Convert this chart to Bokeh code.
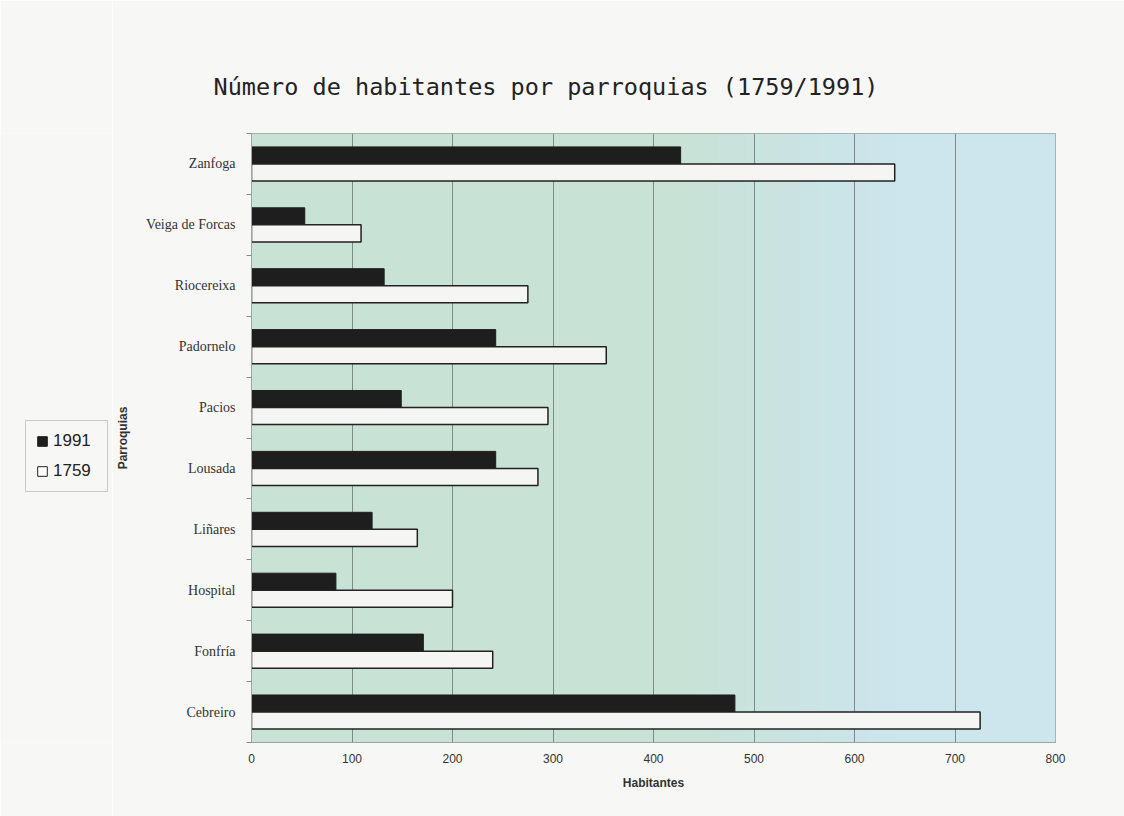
import numpy as np
from bokeh.plotting import figure
from bokeh.layouts import row
from bokeh.models import (ColumnDataSource, FixedTicker, Legend, LegendItem, Range1d, Title)
from bokeh.embed import file_html
from bokeh.resources import INLINE

# ---- data (bottom to top) ----
parroquias = ["Cebreiro", "Fonfría", "Hospital", "Liñares", "Lousada",
              "Pacios", "Padornelo", "Riocereixa", "Veiga de Forcas", "Zanfoga"]
hab_1991 = [481, 171, 84, 120, 243, 149, 243, 132, 53, 427]
hab_1759 = [725, 240, 200, 165, 285, 295, 353, 275, 109, 640]
x_ticks = [0, 100, 200, 300, 400, 500, 600, 700, 800]
series_labels = ["1991", "1759"]

n = len(parroquias)
pos = np.arange(n, dtype=float)
bar_h = 0.28
PAPER = "#f7f7f5"
FILL_91 = "#1e1e1e"
FILL_59 = "#f5f5f3"

src = ColumnDataSource(dict(
    y91=pos + bar_h / 2, y59=pos - bar_h / 2,
    v91=hab_1991, v59=hab_1759))

TOTAL_W, H = 1124, 816
LW = 112
p = figure(width=TOTAL_W - LW, height=H, output_backend="svg", toolbar_location=None,
           x_range=Range1d(0, 800), y_range=Range1d(-0.5, n - 0.5),
           min_border_left=139, min_border_right=69,
           min_border_top=133, min_border_bottom=74)
p.background_fill_color = "#c8e2d6"
p.border_fill_color = PAPER
p.outline_line_color = "#9aa4a2"

# gradient background (green -> light blue)
green = np.array([200, 226, 214])
blue = np.array([205, 229, 237])
N = 200
xs = np.linspace(0, 800, N)
t = np.clip((xs - 420) / 220.0, 0, 1)
img = np.empty((1, N), dtype=np.uint32)
view = img.view(dtype=np.uint8).reshape((1, N, 4))
for i in range(N):
    c = green * (1 - t[i]) + blue * t[i]
    view[0, i, 0] = int(c[0]); view[0, i, 1] = int(c[1]); view[0, i, 2] = int(c[2]); view[0, i, 3] = 255
p.image_rgba(image=[img], x=0, y=-0.5, dw=800, dh=n, level="image")

# bars
p.hbar(y="y91", right="v91", left=0, height=bar_h, source=src,
       fill_color=FILL_91, line_color=FILL_91, line_width=1)
p.hbar(y="y59", right="v59", left=0, height=bar_h, source=src,
       fill_color=FILL_59, line_color="#222222", line_width=1.5)

# grid
p.xgrid.grid_line_color = "#7d8a88"
p.xgrid.grid_line_width = 1
p.xgrid.level = "image"
p.ygrid.grid_line_color = None

# x axis
p.xaxis.ticker = FixedTicker(ticks=x_ticks)
p.xaxis.axis_label = "Habitantes"
p.xaxis.axis_label_text_font = "Liberation Sans"
p.xaxis.axis_label_text_font_style = "bold"
p.xaxis.axis_label_text_font_size = "12px"
p.xaxis.axis_label_text_color = "#333333"
p.xaxis.major_label_text_font = "Liberation Sans"
p.xaxis.major_label_text_font_size = "12px"
p.xaxis.major_label_text_color = "#333333"
p.xaxis.axis_line_color = "#9aa4a2"
p.xaxis.major_tick_line_color = None
p.xaxis.minor_tick_line_color = None
p.xaxis.major_label_standoff = 5
p.xaxis.axis_label_standoff = 10

# y axis
p.yaxis.ticker = FixedTicker(ticks=list(pos), minor_ticks=list(np.arange(-0.5, n, 1.0)))
p.yaxis.major_label_overrides = {float(v): name for v, name in zip(pos, parroquias)}
p.yaxis.axis_label = "Parroquias"
p.yaxis.axis_label_text_font = "Liberation Sans"
p.yaxis.axis_label_text_font_style = "bold"
p.yaxis.axis_label_text_font_size = "12px"
p.yaxis.axis_label_text_color = "#333333"
p.yaxis.major_label_text_font = "Liberation Serif"
p.yaxis.major_label_text_font_size = "14px"
p.yaxis.major_label_text_color = "#333333"
p.yaxis.axis_line_color = "#9aa4a2"
p.yaxis.major_tick_line_color = None
p.yaxis.minor_tick_line_color = "#888888"
p.yaxis.minor_tick_out = 5
p.yaxis.minor_tick_in = 0
p.yaxis.major_label_standoff = 10
p.yaxis.axis_label_standoff = 13

# title
p.add_layout(Title(text="Número de habitantes por parroquias (1759/1991)",
                   text_font="DejaVu Sans Mono", text_font_size="23.5px",
                   text_font_style="normal", text_color="#222222",
                   align="left", offset=-38, standoff=66), "above")

# legend panel (separate narrow figure on the left)
lg = figure(width=LW, height=H, output_backend="svg", toolbar_location=None,
            x_range=Range1d(0, 1), y_range=Range1d(0, 1),
            min_border=0, x_axis_type=None, y_axis_type=None)
lg.background_fill_color = PAPER
lg.border_fill_color = PAPER
lg.outline_line_color = None
lg.grid.grid_line_color = None
# legend swatches (hidden renderers, used only for the legend glyphs)
d91 = lg.hbar(y=[0.5], right=[1], left=0, height=0.1, fill_color=FILL_91, line_color=FILL_91, visible=False)
d59 = lg.hbar(y=[0.5], right=[1], left=0, height=0.1, fill_color="#ffffff", line_color="#222222", visible=False)
legend = Legend(items=[LegendItem(label=series_labels[0], renderers=[d91]),
                       LegendItem(label=series_labels[1], renderers=[d59])],
                location=(25, 250), orientation="vertical",
                label_text_font="Liberation Sans", label_text_font_size="17px",
                label_text_color="#222222",
                glyph_width=12, glyph_height=12, spacing=10,
                padding=10, margin=0, label_standoff=5,
                label_width=44, label_height=20,
                inactive_fill_alpha=0,
                background_fill_color=PAPER, background_fill_alpha=1,
                border_line_color="#999999")
lg.add_layout(legend, "center")

layout = row(lg, p, spacing=0)
open("out.html", "w").write(file_html(layout, INLINE))
